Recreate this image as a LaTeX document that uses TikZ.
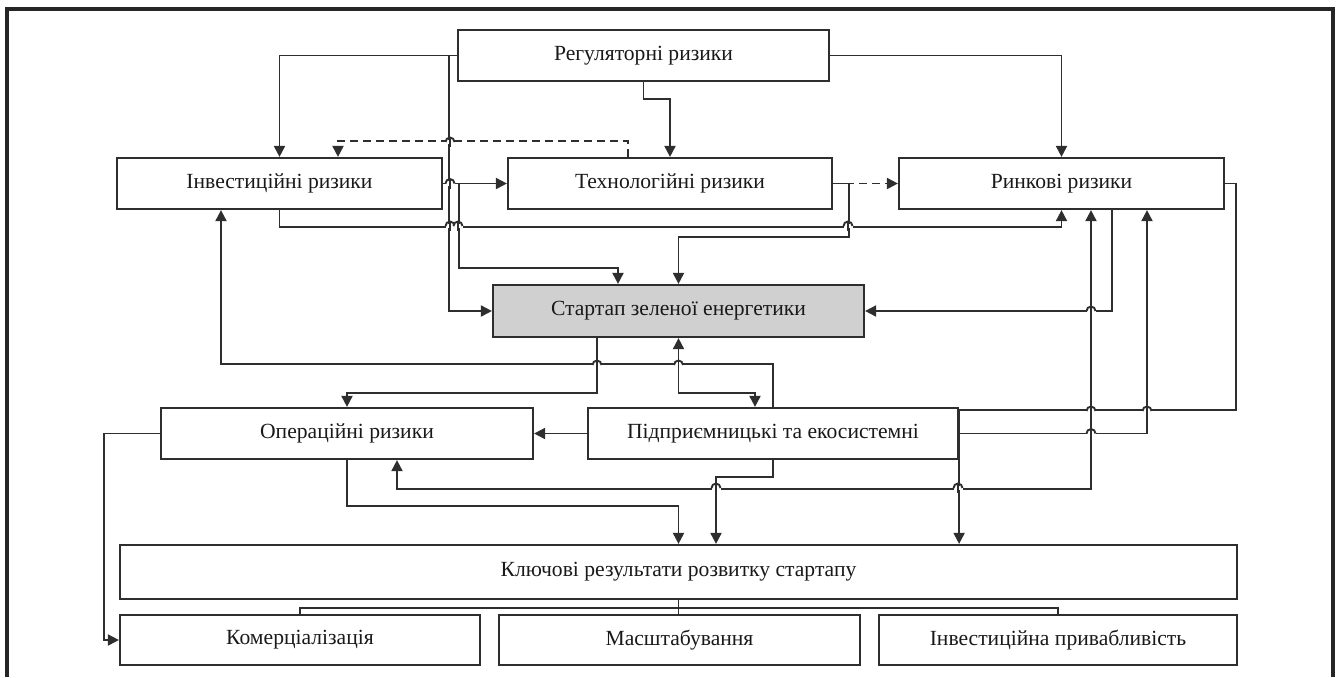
\documentclass[tikz,border=0pt]{standalone}
\usepackage{fontspec}
\setmainfont{Liberation Serif}
\usetikzlibrary{arrows.meta}
\definecolor{edge}{HTML}{2E2E2E}
\definecolor{core}{HTML}{D0D0D0}
\tikzset{
    block/.style={
        rectangle,
        draw=edge,
        line width=1.1pt,
        minimum height=25.5pt,
        inner sep=0pt,
        align=center,
        text=black!90,
        font=\fontsize{10.8}{12}\selectfont
    },
    link/.style={
        line width=0.95pt, draw=edge
    },
    arrow/.style={
        link, -{Triangle[length=5.5pt,width=5.5pt]}
    },
    twoway/.style={
        link, {Triangle[length=5.5pt,width=5.5pt]}-{Triangle[length=5.5pt,width=5.5pt]}
    },
    dashlink/.style={
        dash pattern=on 4pt off 2.5pt
    },
    hop/.pic={
        \fill[white] (-4.5,-2.2) rectangle (4.5,2.2);
        \draw[link] (0,-5) -- (0,5);
        \draw[link] (-4.5,0) arc[start angle=180,end angle=360,radius=4.5];
    }
}

\begin{document}
\begin{tikzpicture}[x=0.5pt,y=-0.5pt]
\useasboundingbox (0,0) rectangle (1338,677);
\draw[black!85, line width=1.7pt] (7,677) -- (7,9) -- (1333,9) -- (1333,677);

% risks
\node (reg) [block, minimum width=185.5pt] at (643.5,55.5) {Регуляторні ризики};
\node (inv) [block, minimum width=162.5pt] at (279.5,183.5) {Інвестиційні ризики};
\node (tech) [block, minimum width=162pt] at (670,183.5) {Технологійні ризики};
\node (mkt) [block, minimum width=162.5pt] at (1061.5,183.5) {Ринкові ризики};
\node (st) [block, fill=core, minimum width=185.5pt, minimum height=26pt] at (678.5,311) {Стартап зеленої енергетики};
\node (op) [block, minimum width=186pt] at (347,433.5) {Операційні ризики};
\node (ent) [block, minimum width=185pt] at (773,433.5) {Підприємницькі та екосистемні};

% results
\node (key) [block, minimum width=558.5pt, minimum height=27pt] at (678.5,572) {Ключові результати розвитку стартапу};
\node (com) [block, minimum width=180pt, minimum height=25pt] at (300,640) {Комерціалізація};
\node (scl) [block, minimum width=180.5pt, minimum height=25pt] at (679.5,640) {Масштабування};
\node (attr) [block, minimum width=179pt, minimum height=25pt] at (1058,640) {Інвестиційна привабливість};

\draw [arrow] (reg.west) -| (inv.north);
\draw [arrow] (reg.west) -- ++(-8,0) |- (st.west);
\draw [arrow] (reg.south) -- ++(0,16.5) -| (tech.north);
\draw [arrow] (reg.east) -| (mkt.north);

\draw [arrow, dashlink] ([xshift=-21pt]tech.north) -- ++(0,-16) -| ([xshift=29.25pt]inv.north);
\draw [arrow, dashlink] (tech.east) -- (mkt.west);
\draw [arrow] (tech.east) -- ++(16,0) -- ++(0,53.5) -| (st.north);

\draw [arrow] (inv.east) -- (tech.west);
\draw [arrow] (inv.east) -- ++(16,0) -- ++(0,84.5) -| ([xshift=-30.25pt]st.north);
\draw [arrow] (inv.south) -- ++(0,17) -| (mkt.south);

\draw [arrow] ([xshift=25.25pt]mkt.south) |- (st.east);
\draw [arrow] (mkt.east) -- ++(11,0) |- ([yshift=-1.5pt]ent.north east) -- (key.north -| ent.east);
\draw [arrow] (ent.east) -| ([xshift=42.75pt]mkt.south);
\draw [twoway] ([xshift=25pt]op.south) -- ++(0,29) -| ([xshift=14.75pt]mkt.south);

\draw [arrow] ([xshift=-40.75pt]st.south) -- ++(0,55) -| (op.north);
\draw [twoway] (st.south) -- ++(0,55) -| ([xshift=-9pt]ent.north);
\draw [arrow] (ent.north) -- ++(0,-43) -| ([xshift=-29.25pt]inv.south);
\draw [arrow] (ent.west) -- (op.east);
\draw [arrow] (op.west) -- ++(-56,0) |- (com.west);

\draw [arrow] (ent.south) -- ++(0,17) -| ([xshift=18.75pt]key.north);
\draw [arrow] (op.south) -- ++(0,46) -| (key.north);

\draw [link] (key.south) -- ++(0,8) -| (com.north);
\draw [link] (key.south) -- ++(0,8) -| (attr.north);
\draw [link] (key.south) -- (key.south |- scl.north);

% line jumps
\pic at (450,142) {hop};
\pic at (450,183.5) {hop};
\pic at (450,226) {hop};
\pic at (458,226) {hop};
\pic at (848,226) {hop};
\pic at (1091,311) {hop};
\pic at (597,365) {hop};
\pic at (678.5,365) {hop};
\pic at (1091,411) {hop};
\pic at (1147,411) {hop};
\pic at (1091,433.5) {hop};
\pic at (716,488) {hop};
\pic at (958,488) {hop};

\end{tikzpicture}
\end{document}
